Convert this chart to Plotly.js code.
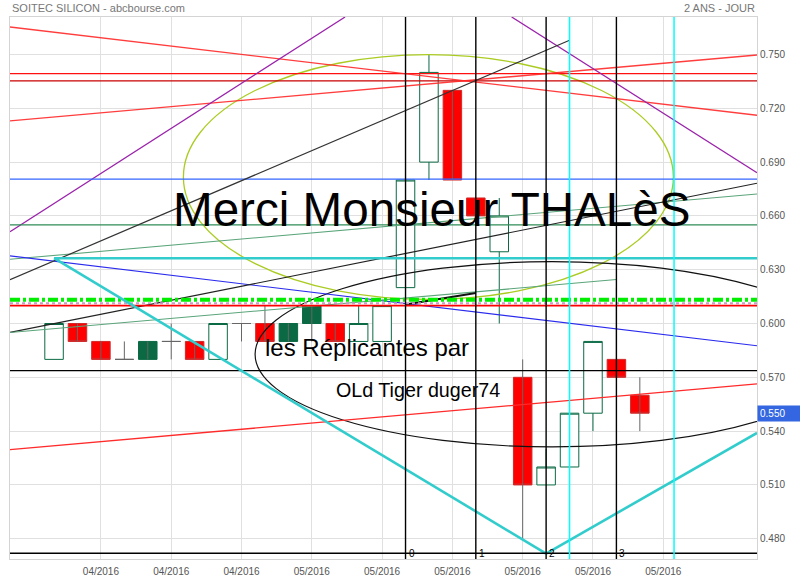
<!DOCTYPE html>
<html><head><meta charset="utf-8">
<script src="https://cdn.plot.ly/plotly-3.0.1.min.js"></script>
<style>body{margin:0;background:#fff}#chart{width:800px;height:580px}</style>
</head><body><div id="chart"></div>
<script>
// ---- data ----
const candleIdx = [0,1,2,3,4,5,6,7,8,9,10,11,12,13,14,15,16,17,18,19,20,21,22,23,24,25];
const opens  = [0.580,0.600,0.590,0.580,0.590,0.590,0.590,0.580,0.600,0.600,0.600,0.610,0.600,0.590,0.590,0.620,0.690,0.730,0.670,0.640,0.570,0.510,0.520,0.550,0.580,0.560];
const highs  = [0.600,0.600,0.590,0.590,0.590,0.600,0.590,0.600,0.600,0.610,0.600,0.610,0.600,0.610,0.610,0.680,0.750,0.730,0.670,0.670,0.580,0.530,0.550,0.590,0.620,0.570];
const lows   = [0.580,0.590,0.580,0.580,0.580,0.580,0.580,0.580,0.590,0.590,0.590,0.590,0.590,0.590,0.590,0.620,0.680,0.680,0.660,0.600,0.480,0.510,0.520,0.540,0.570,0.540];
const closes = [0.600,0.590,0.580,0.580,0.580,0.590,0.580,0.600,0.600,0.590,0.590,0.600,0.590,0.600,0.610,0.680,0.740,0.680,0.660,0.660,0.510,0.520,0.550,0.590,0.570,0.550];
const tickIdx = [2,5,8,11,14,17,20,23,26];
const tickLabels = ['04/2016','04/2016','04/2016','05/2016','05/2016','05/2016','05/2016','05/2016','05/2016'];
const priceTicks = [0.480,0.510,0.540,0.570,0.600,0.630,0.660,0.690,0.720,0.750];
const lastPrice = 0.550;
const xRange = [-1.88, 30.0];
const yRange = [0.4687, 0.7709];

// drawn studies (index, price)
const redFalling   = [[-1.88,0.7653],[30.0,0.7161]];
const redRising    = [[-1.88,0.7130],[30.0,0.7497]];
const purpleRising = [[-1.88,0.6512],[12.42,0.7709]];
const purpleFalling= [[19.53,0.7709],[30.0,0.6841]];
const greenRising  = [[-1.88,0.6358],[30.0,0.6722]];
const blueFalling  = [[-1.88,0.6377],[30.0,0.5876]];
const blackLong    = [[-1.88,0.6244],[22.0,0.7579]];
const blackMid     = [[-1.88,0.5950],[30.0,0.6782]];
const greenLow     = [[-1.88,0.5950],[24.0,0.6245]];
const blackShort   = [[15.0,0.6106],[18.0,0.6170]];
const redLow       = [[-1.88,0.5297],[30.0,0.5663]];
const cyanV        = [[0.0,0.6364],[21.0,0.4717],[30.0,0.5390]];
const cyanLevelStart = 0.0;
const cyanLevel = 0.6364;
const levelRed = 0.7393, levelDarkRed = 0.7353, levelBlue = 0.6805, levelGreen = 0.6550;
const levelLime = 0.6132, levelPink = 0.6113, levelRed2 = 0.6100, levelBlack = 0.5737, levelBottom = 0.4719;
const markerIdx = [15,18,21,24];
const markerText = ['0','1','2','3'];
const cyanVerticals = [22, 26.46];
const ellipseYellow = [[5.52,0.6134],[26.43,0.7499]];
const ellipseBlack  = [[8.58,0.5312],[33.93,0.6345]];

// ---- classify candles ----
const groups = {hollow:[], red:[], green:[], doji:[]};
candleIdx.forEach((x,i)=>{
  const o=opens[i], c=closes[i], prev = i>0?closes[i-1]:o;
  let g;
  if (c>o) g='hollow'; else if (c===o) g='doji'; else if (c>=prev) g='green'; else g='red';
  groups[g].push(i);
});
const pick = (arr, ids) => ids.map(i=>arr[i]);
const bodyHi = ids => ids.map(i=>Math.max(opens[i],closes[i]));
const bodyLo = ids => ids.map(i=>Math.min(opens[i],closes[i]));

const wickX=[], wickY=[];
groups.red.concat(groups.green).forEach(i=>{ wickX.push(candleIdx[i],candleIdx[i],null); wickY.push(lows[i],highs[i],null); });

const DG='#0b6a44';
function cs(ids, hi, lo, line, fill){
  return {type:'candlestick', x:pick(candleIdx,ids), open:pick(opens,ids), close:pick(closes,ids), high:hi, low:lo,
    increasing:{line:{color:line,width:1},fillcolor:fill}, decreasing:{line:{color:line,width:1},fillcolor:fill},
    hoverinfo:'skip', showlegend:false, whiskerwidth:0};
}
const traces = [
  {type:'scatter', mode:'lines', x:wickX, y:wickY, line:{color:'#666',width:1}, hoverinfo:'skip', showlegend:false},
  cs(groups.hollow, pick(highs,groups.hollow), pick(lows,groups.hollow), DG, '#ffffff'),
  cs(groups.red, bodyHi(groups.red), bodyLo(groups.red), '#d02a2a', '#ff0000'),
  cs(groups.green, bodyHi(groups.green), bodyLo(groups.green), DG, DG),
  cs(groups.doji, pick(highs,groups.doji), pick(lows,groups.doji), '#666', '#666')
];

// ---- shapes ----
const shapes=[];
function seg(p, color, width, dash){
  for(let k=0;k<p.length-1;k++) shapes.push({type:'line', xref:'x', yref:'y', x0:p[k][0], y0:p[k][1], x1:p[k+1][0], y1:p[k+1][1], line:{color, width, dash:dash||'solid'}});
}
function hl(v, color, width, dash, x0){
  shapes.push({type:'line', xref:(x0===undefined?'paper':'x'), yref:'y', x0:(x0===undefined?0:x0), x1:(x0===undefined?1:xRange[1]), y0:v, y1:v, line:{color, width, dash:dash||'solid'}});
}
function vl(x, color, width){
  shapes.push({type:'line', xref:'x', yref:'paper', x0:x, x1:x, y0:0, y1:1, line:{color, width}});
}
function el(b, color, width){
  shapes.push({type:'circle', xref:'x', yref:'y', x0:b[0][0], y0:b[0][1], x1:b[1][0], y1:b[1][1], line:{color, width}});
}
el(ellipseYellow,'#aacc22',1.3);
el(ellipseBlack,'#111111',1.2);
hl(levelRed,'#ff1010',1.3);
hl(levelDarkRed,'#c80000',1.3);
seg(redFalling,'rgba(255,40,40,0.9)',1.4);
seg(redRising,'rgba(255,40,40,0.9)',1.4);
seg(purpleRising,'#9a22aa',1.3);
seg(purpleFalling,'#9a22aa',1.3);
hl(levelBlue,'#3366ff',1.3);
hl(levelGreen,'#2e8b57',1.3);
seg(greenRising,'#5aa57a',1.1);
seg(blueFalling,'#2b2bee',1.2);
seg(blackLong,'#333333',1.2);
seg(blackMid,'#222222',1.2);
seg(greenLow,'#5aa57a',1.1);
seg(blackShort,'#111111',2);
hl(levelPink,'#c89ac8',2,'dot');
hl(levelRed2,'#ff0000',1.6);
hl(levelLime,'#00ee00',4,'10px,3px,3px,3px');
hl(levelBlack,'#000000',1.3);
seg(redLow,'#ff2a2a',1.3);
hl(cyanLevel,'#33cccc',2.6,'solid',cyanLevelStart);
seg(cyanV,'#33cccc',2.6);
hl(levelBottom,'#000000',1.5);
markerIdx.forEach(x=>vl(x,'#000000',1.4));
cyanVerticals.forEach(x=>vl(x,'#00ffff',1.5));

// ---- annotations ----
const F='Liberation Sans, Arial, Helvetica, sans-serif';
const annotations=[
  {xref:'paper', yref:'paper', x:0, y:1, xanchor:'left', yanchor:'bottom', yshift:1, text:'SOITEC SILICON - abcbourse.com', showarrow:false, font:{family:F,size:11,color:'#777'}},
  {xref:'paper', yref:'paper', x:1, y:1, xanchor:'right', yanchor:'bottom', yshift:1, text:'2 ANS - JOUR', showarrow:false, font:{family:F,size:11,color:'#777'}},
  {xref:'paper', yref:'paper', x:0.2149, y:0.645, xanchor:'left', yanchor:'middle', text:'Merci Monsieur THALèS', showarrow:false, font:{family:F,size:47.6,color:'#000'}},
  {xref:'paper', yref:'paper', x:0.3384, y:0.391, xanchor:'left', yanchor:'middle', text:'les Réplicantes par', showarrow:false, font:{family:F,size:24,color:'#000'}},
  {xref:'paper', yref:'paper', x:0.4333, y:0.3114, xanchor:'left', yanchor:'middle', text:'OLd Tiger duger74', showarrow:false, font:{family:F,size:19.7,color:'#000'}},
  {xref:'paper', yref:'y', x:1, y:lastPrice, xanchor:'left', yanchor:'middle', text:lastPrice.toFixed(3), showarrow:false, bgcolor:'#3366e0', width:38, align:'left', borderpad:2, font:{family:F,size:10,color:'#fff'}}
];
markerIdx.forEach((x,k)=>annotations.push({xref:'x', yref:'y', x:x, y:levelBottom, xanchor:'left', yanchor:'middle', xshift:1, text:markerText[k], showarrow:false, font:{family:F,size:10,color:'#000'}}));

const layout = {
  width:800, height:580, margin:{l:10,r:43,t:17,b:21},
  paper_bgcolor:'#fff', plot_bgcolor:'#fff', showlegend:false,
  boxgap:0.21, boxgroupgap:0, boxmode:'overlay',
  font:{family:F},
  xaxis:{type:'linear', range:xRange, tickvals:tickIdx, ticktext:tickLabels, showgrid:true, gridcolor:'#e0e0e0', zeroline:false,
    showline:true, mirror:true, linecolor:'#d4d4d4', ticks:'', ticklabelstandoff:3, tickfont:{family:F,size:10,color:'#555'}, rangeslider:{visible:false}, fixedrange:true},
  yaxis:{side:'right', range:yRange, tickvals:priceTicks, tickformat:'.3f', showgrid:true, gridcolor:'#e0e0e0', zeroline:false,
    showline:true, mirror:true, linecolor:'#d4d4d4', ticks:'', tickfont:{family:F,size:10,color:'#555'}, fixedrange:true},
  shapes, annotations
};
Plotly.newPlot('chart', traces, layout, {displayModeBar:false, staticPlot:true});
</script></body></html>
